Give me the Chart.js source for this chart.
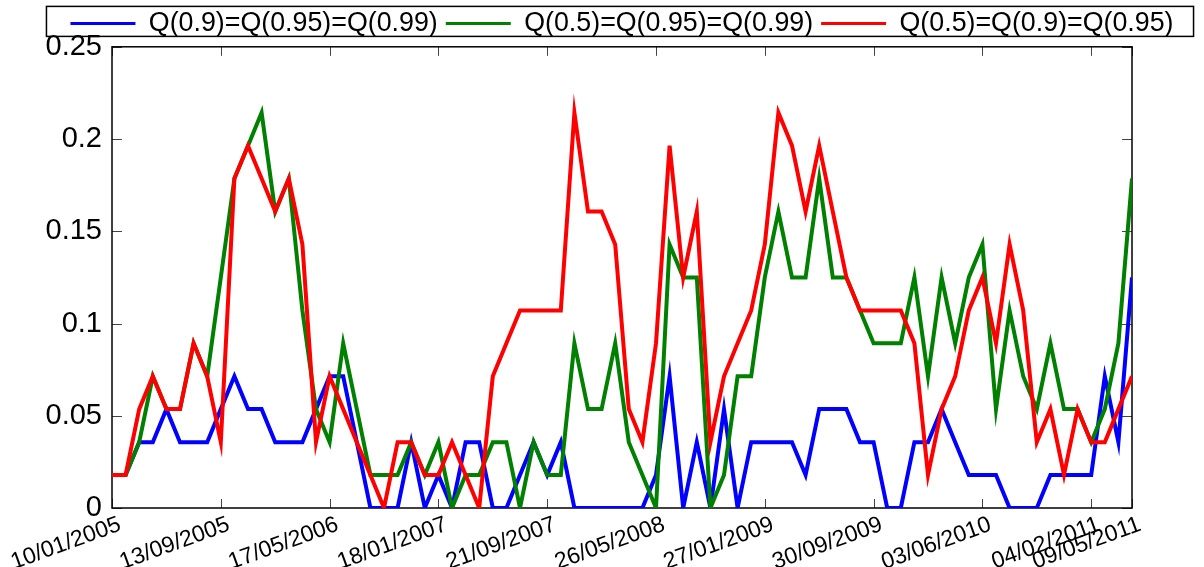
<!DOCTYPE html>
<html>
<head>
<meta charset="utf-8">
<script src="https://cdn.jsdelivr.net/npm/chart.js@4.4.1/dist/chart.umd.min.js"></script>
<style>
  html, body { margin: 0; padding: 0; background: #fff; }
</style>
</head>
<body>
<canvas id="myChart" width="1204" height="567"></canvas>
<script>
// one observation every 8th is labelled on the x axis (plus the last one)
const tickIdx = [0, 8, 16, 24, 32, 40, 48, 56, 64, 72, 75];
const tickDates = ['10/01/2005', '13/09/2005', '17/05/2006', '18/01/2007', '21/09/2007',
  '26/05/2008', '27/01/2009', '30/09/2009', '03/06/2010', '04/02/2011', '09/05/2011'];

const blueVals = [
  0.0179, 0.0179, 0.0357, 0.0357, 0.0536, 0.0357, 0.0357, 0.0357, 0.0536, 0.0714,
  0.0536, 0.0536, 0.0357, 0.0357, 0.0357, 0.0536, 0.0714, 0.0714, 0.0357, 0,
  0, 0, 0.0357, 0, 0.0179, 0, 0.0357, 0.0357, 0, 0,
  0.0179, 0.0357, 0.0179, 0.0357, 0, 0, 0, 0, 0, 0,
  0.0179, 0.0714, 0, 0.0357, 0, 0.0536, 0, 0.0357, 0.0357, 0.0357,
  0.0357, 0.0179, 0.0536, 0.0536, 0.0536, 0.0357, 0.0357, 0, 0, 0.0357,
  0.0357, 0.0536, 0.0357, 0.0179, 0.0179, 0.0179, 0, 0, 0, 0.0179,
  0.0179, 0.0179, 0.0179, 0.0714, 0.0357, 0.125
];
const greenVals = [
  0.0179, 0.0179, 0.0357, 0.0714, 0.0536, 0.0536, 0.0893, 0.0714, 0.125, 0.1786,
  0.1964, 0.2143, 0.1607, 0.1786, 0.1071, 0.0536, 0.0357, 0.0893, 0.0536, 0.0179,
  0.0179, 0.0179, 0.0357, 0.0179, 0.0357, 0, 0.0179, 0.0179, 0.0357, 0.0357,
  0, 0.0357, 0.0179, 0.0179, 0.0893, 0.0536, 0.0536, 0.0893, 0.0357, 0.0179,
  0, 0.1429, 0.125, 0.125, 0, 0.0179, 0.0714, 0.0714, 0.125, 0.1607,
  0.125, 0.125, 0.1786, 0.125, 0.125, 0.1071, 0.0893, 0.0893, 0.0893, 0.125,
  0.0714, 0.125, 0.0893, 0.125, 0.1429, 0.0536, 0.1071, 0.0714, 0.0536, 0.0893,
  0.0536, 0.0536, 0.0357, 0.0536, 0.0893, 0.1786
];
const redVals = [
  0.0179, 0.0179, 0.0536, 0.0714, 0.0536, 0.0536, 0.0893, 0.0714, 0.0357, 0.1786,
  0.1964, 0.1786, 0.1607, 0.1786, 0.1429, 0.0357, 0.0714, 0.0536, 0.0357, 0.0179,
  0, 0.0357, 0.0357, 0.0179, 0.0179, 0.0357, 0.0179, 0, 0.0714, 0.0893,
  0.1071, 0.1071, 0.1071, 0.1071, 0.2143, 0.1607, 0.1607, 0.1429, 0.0536, 0.0357,
  0.0893, 0.1964, 0.125, 0.1607, 0.0357, 0.0714, 0.0893, 0.1071, 0.1429, 0.2143,
  0.1964, 0.1607, 0.1964, 0.1607, 0.125, 0.1071, 0.1071, 0.1071, 0.1071, 0.0893,
  0.0179, 0.0536, 0.0714, 0.1071, 0.125, 0.0893, 0.1429, 0.1071, 0.0357, 0.0536,
  0.0179, 0.0536, 0.0357, 0.0357, 0.0536, 0.0714
];

const seriesNames = ['Q(0.9)=Q(0.95)=Q(0.99)', 'Q(0.5)=Q(0.95)=Q(0.99)', 'Q(0.5)=Q(0.9)=Q(0.95)'];
const seriesColors = ['#0000ff', '#008000', '#ff0000'];

const FONT = "'Liberation Sans', Arial, Helvetica, sans-serif";

function points(vals) {
  return vals.map((v, i) => ({ x: i, y: v }));
}

// box round the plot and MATLAB-style inward ticks
const framePlugin = {
  id: 'frame',
  beforeDatasetsDraw(chart) {
    const { ctx, chartArea: a, scales } = chart;
    ctx.save();
    ctx.strokeStyle = '#444';
    ctx.lineWidth = 1;
    ctx.beginPath();
    scales.x.ticks.forEach((t) => {
      const px = Math.round(scales.x.getPixelForValue(t.value)) + 0.5;
      ctx.moveTo(px, a.bottom); ctx.lineTo(px, a.bottom - 9);
      ctx.moveTo(px, a.top); ctx.lineTo(px, a.top + 9);
    });
    scales.y.ticks.forEach((t) => {
      const py = Math.round(scales.y.getPixelForValue(t.value)) + 0.5;
      ctx.moveTo(a.left, py); ctx.lineTo(a.left + 10, py);
      ctx.moveTo(a.right, py); ctx.lineTo(a.right - 10, py);
    });
    ctx.stroke();
    ctx.strokeStyle = '#000';
    ctx.lineWidth = 1.5;
    ctx.strokeRect(a.left, a.top, a.right - a.left, a.bottom - a.top);
    ctx.restore();
  },
  afterDraw(chart) {
    // border round the legend
    const hb = chart.legend.legendHitBoxes;
    if (!hb || !hb.length) return;
    const left = Math.min(...hb.map(h => h.left)) - 24;
    const right = Math.max(...hb.map(h => h.left + h.width)) + 20;
    const cy = hb[0].top + hb[0].height / 2;
    const ctx = chart.ctx;
    ctx.save();
    ctx.strokeStyle = '#000';
    ctx.lineWidth = 1.5;
    ctx.strokeRect(left, cy - 17, right - left, 30);
    ctx.restore();
  }
};

const chart = new Chart(document.getElementById('myChart'), {
  type: 'line',
  data: {
    datasets: [
      { label: seriesNames[0], data: points(blueVals), borderColor: seriesColors[0], order: 3 },
      { label: seriesNames[1], data: points(greenVals), borderColor: seriesColors[1], order: 2 },
      { label: seriesNames[2], data: points(redVals), borderColor: seriesColors[2], order: 1 }
    ]
  },
  options: {
    responsive: false,
    animation: false,
    layout: { padding: { top: 2, left: 40, right: 0, bottom: 0 } },
    elements: {
      point: { radius: 0 },
      line: { borderWidth: 4, tension: 0, fill: false }
    },
    plugins: {
      tooltip: { enabled: false },
      legend: {
        position: 'top',
        labels: {
          boxWidth: 65,
          boxHeight: 3,
          padding: 8,
          color: '#000',
          font: { family: FONT, size: 26.8 },
          generateLabels: (c) => c.data.datasets.map((ds, i) => ({
            text: ds.label,
            fillStyle: ds.borderColor,
            strokeStyle: ds.borderColor,
            lineWidth: 0,
            hidden: false,
            datasetIndex: i,
            fontColor: '#000'
          }))
        }
      }
    },
    scales: {
      x: {
        type: 'linear',
        min: 0,
        max: blueVals.length - 1,
        afterBuildTicks: (scale) => {
          scale.ticks = tickIdx.map(v => ({ value: v }));
        },
        afterFit: (scale) => { scale.height = 59; },
        grid: { display: false, drawTicks: false },
        border: { display: false },
        ticks: {
          autoSkip: false,
          minRotation: 20,
          maxRotation: 20,
          padding: 3,
          labelOffset: 8,
          color: '#000',
          font: { family: FONT, size: 23 },
          callback: (v, i) => tickDates[i]
        }
      },
      y: {
        min: 0,
        max: 0.25,
        afterFit: (scale) => { scale.width = 72; },
        grid: { display: false, drawTicks: false },
        border: { display: false },
        ticks: {
          stepSize: 0.05,
          padding: 10,
          color: '#000',
          font: { family: FONT, size: 29 },
          callback: (v) => String(+v.toFixed(2))
        }
      },
      y2: {
        position: 'right',
        afterFit: (scale) => { scale.width = 72; },
        grid: { display: false, drawTicks: false },
        border: { display: false },
        ticks: { display: false }
      }
    }
  },
  plugins: [framePlugin]
});
</script>
</body>
</html>
